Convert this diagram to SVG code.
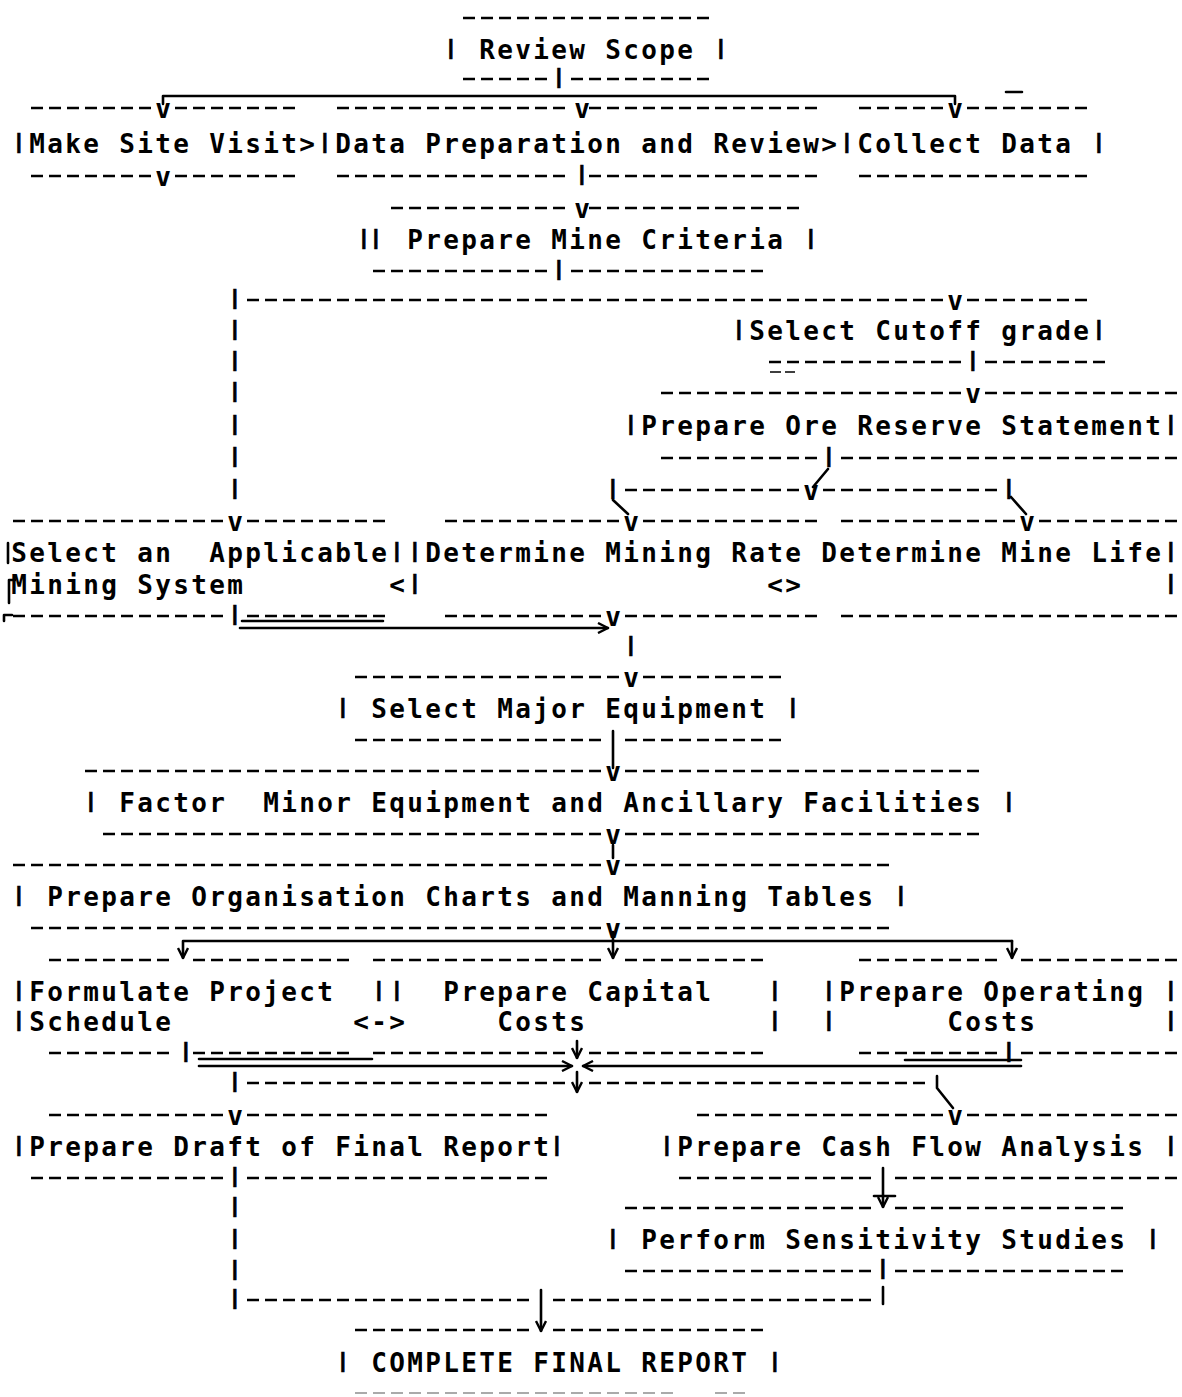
<svg xmlns="http://www.w3.org/2000/svg" width="1182" height="1397" viewBox="0 0 1182 1397" xml:space="preserve">
<style>
.t{font-family:"DejaVu Sans Mono","Liberation Mono",monospace;font-weight:bold;font-size:26px;letter-spacing:2.35px;fill:#000;white-space:pre}
.b{font-family:"DejaVu Sans","Liberation Sans",sans-serif;font-weight:normal;letter-spacing:0;stroke:#000;stroke-width:0.7}
.d{fill:none;stroke:#000;stroke-width:2.6;stroke-dasharray:12 6}
.c{fill:none;stroke:#000;stroke-width:2.6;stroke-linecap:round;stroke-linejoin:round}
.m{marker-end:url(#ah)}
</style>
<defs>
<marker id="ah" viewBox="0 0 12 12" refX="11" refY="6" markerWidth="12" markerHeight="12" markerUnits="userSpaceOnUse" orient="auto"><path d="M1 1L11 6L1 11" fill="none" stroke="#000" stroke-width="2.4"/></marker>
</defs>
<rect width="1182" height="1397" fill="#fff"/>

<g id="review">
<path class="d" d="M463 18H709M463 79H547M571 79H709"/>
<text class="t" y="59"><tspan class="b" x="447">I</tspan><tspan x="479.2">Review Scope</tspan><tspan class="b" x="717">I</tspan></text>
<text class="t" y="88"><tspan class="b" x="555">I</tspan></text>
</g>

<g id="site">
<path class="d" d="M31 108H151M175 108H295M31 176H151M175 176H295"/>
<text class="t" x="155.2" y="118">v</text>
<text class="t" y="153"><tspan class="b" x="15">I</tspan><tspan x="29.2">Make Site Visit&gt;</tspan></text>
<text class="t" x="155.2" y="186">v</text>
</g>

<g id="data">
<path class="d" d="M337 108H565M589 108H817M337 176H565M589 176H817"/>
<text class="t" x="574.2" y="118">v</text>
<text class="t" y="153"><tspan class="b" x="321">I</tspan><tspan x="335.2">Data Preparation and Review&gt;</tspan></text>
<text class="t" y="185"><tspan class="b" x="578">I</tspan></text>
</g>

<g id="collect">
<path class="d" d="M859 108H943M967 108H1087M859 176H1087"/>
<text class="t" x="947.2" y="118">v</text>
<text class="t" y="153"><tspan class="b" x="843">I</tspan><tspan x="857.2">Collect Data</tspan><tspan class="b" x="1095">I</tspan></text>
</g>

<g id="criteria">
<path class="d" d="M391 208H565M589 208H799M373 271H547M571 271H763"/>
<text class="t" x="574.2" y="218">v</text>
<text class="t" y="249"><tspan class="b" x="360">I</tspan><tspan class="b" x="372">I</tspan><tspan x="407.2">Prepare Mine Criteria</tspan><tspan class="b" x="807">I</tspan></text>
<text class="t" y="280"><tspan class="b" x="555">I</tspan></text>
</g>

<g id="cutoff">
<text class="t" y="340"><tspan class="b" x="735">I</tspan><tspan x="749.2">Select Cutoff grade</tspan><tspan class="b" x="1095">I</tspan></text>
<path class="d" d="M769 362H961M985 362H1105"/>
<path d="M770 372H781M785 372H795" stroke="#000" stroke-width="1.4"/>
<text class="t" y="371"><tspan class="b" x="969">I</tspan></text>
</g>

<g id="ore">
<path class="d" d="M661 393H961M985 393H1177M661 458H817M841 458H1177"/>
<text class="t" x="965.2" y="403">v</text>
<text class="t" y="435"><tspan class="b" x="627">I</tspan><tspan x="641.2">Prepare Ore Reserve Statement</tspan><tspan class="b" x="1167">I</tspan></text>
<text class="t" y="467"><tspan class="b" x="825">I</tspan></text>
</g>

<g id="system">
<path class="d" d="M13 521H223M247 521H385M13 616H223M247 616H385"/>
<text class="t" x="227.2" y="531">v</text>
<text class="t" y="562"><tspan x="11.2">Select an  Applicable</tspan><tspan class="b" x="393">I</tspan></text>
<text class="t" y="594"><tspan x="11.2">Mining System</tspan><tspan x="389.2">&lt;</tspan></text>
<text class="t" y="625"><tspan class="b" x="231">I</tspan></text>
<path class="c" d="M8 543V563M9 603V580H15M4 621V615H12"/>
</g>

<g id="rate">
<path class="d" d="M445 521H619M643 521H817M445 616H601M625 616H817"/>
<text class="t" x="623.2" y="531">v</text>
<text class="t" y="562"><tspan class="b" x="411">I</tspan><tspan x="425.2">Determine Mining Rate</tspan></text>
<text class="t" y="594"><tspan class="b" x="411">I</tspan><tspan x="767.2">&lt;&gt;</tspan></text>
<text class="t" x="605.2" y="626">v</text>
</g>

<g id="life">
<path class="d" d="M841 521H1015M1039 521H1177M841 616H1177"/>
<text class="t" x="1019.2" y="531">v</text>
<text class="t" y="562"><tspan x="821.2">Determine Mine Life</tspan><tspan class="b" x="1167">I</tspan></text>
<text class="t" y="594"><tspan class="b" x="1167">I</tspan></text>
</g>

<g id="major">
<path class="d" d="M355 677H619M643 677H781M355 740H601M625 740H781"/>
<text class="t" x="623.2" y="687">v</text>
<text class="t" y="718"><tspan class="b" x="339">I</tspan><tspan x="371.2">Select Major Equipment</tspan><tspan class="b" x="789">I</tspan></text>
</g>

<g id="minor">
<path class="d" d="M85 771H601M625 771H979M103 834H601M625 834H979"/>
<text class="t" x="605.2" y="781">v</text>
<text class="t" y="812"><tspan class="b" x="87">I</tspan><tspan x="119.2">Factor  Minor Equipment and Ancillary Facilities</tspan><tspan class="b" x="1005">I</tspan></text>
<text class="t" x="605.2" y="844">v</text>
</g>

<g id="org">
<path class="d" d="M13 865H601M625 865H889M31 928H601M625 928H889"/>
<text class="t" x="605.2" y="875">v</text>
<text class="t" y="906"><tspan class="b" x="15">I</tspan><tspan x="47.2">Prepare Organisation Charts and Manning Tables</tspan><tspan class="b" x="897">I</tspan></text>
<text class="t" x="605.2" y="938">v</text>
</g>

<g id="schedule">
<path class="d" d="M49 960H169M193 960H349M49 1053H169M193 1053H349"/>
<text class="t" y="1001"><tspan class="b" x="15">I</tspan><tspan x="29.2">Formulate Project</tspan><tspan class="b" x="375">I</tspan></text>
<text class="t" y="1031"><tspan class="b" x="15">I</tspan><tspan x="29.2">Schedule</tspan><tspan x="353.2">&lt;-&gt;</tspan></text>
<text class="t" y="1062"><tspan class="b" x="182">I</tspan></text>
</g>

<g id="capital">
<path class="d" d="M373 960H601M625 960H763M373 1053H565M589 1053H763"/>
<text class="t" y="1001"><tspan class="b" x="393">I</tspan><tspan x="443.2">Prepare Capital</tspan><tspan class="b" x="771">I</tspan></text>
<text class="t" y="1031"><tspan x="497.2">Costs</tspan><tspan class="b" x="771">I</tspan></text>
</g>

<g id="operating">
<path class="d" d="M859 960H997M1021 960H1177M859 1053H997M1021 1053H1177"/>
<text class="t" y="1001"><tspan class="b" x="825">I</tspan><tspan x="839.2">Prepare Operating</tspan><tspan class="b" x="1167">I</tspan></text>
<text class="t" y="1031"><tspan class="b" x="825">I</tspan><tspan x="947.2">Costs</tspan><tspan class="b" x="1167">I</tspan></text>
<text class="t" y="1062"><tspan class="b" x="1005">I</tspan></text>
</g>

<g id="draft">
<path class="d" d="M49 1115H223M247 1115H547M31 1178H223M247 1178H547"/>
<text class="t" x="227.2" y="1125">v</text>
<text class="t" y="1156"><tspan class="b" x="15">I</tspan><tspan x="29.2">Prepare Draft of Final Report</tspan><tspan class="b" x="553">I</tspan></text>
<text class="t" y="1187"><tspan class="b" x="231">I</tspan></text>
</g>

<g id="cash">
<path class="d" d="M697 1115H943M967 1115H1177M679 1178H871M895 1178H1177"/>
<text class="t" x="947.2" y="1125">v</text>
<text class="t" y="1156"><tspan class="b" x="663">I</tspan><tspan x="677.2">Prepare Cash Flow Analysis</tspan><tspan class="b" x="1167">I</tspan></text>
</g>

<g id="sensitivity">
<path class="d" d="M625 1208H871M895 1208H1123M625 1271H871M895 1271H1123"/>
<text class="t" y="1249"><tspan class="b" x="609">I</tspan><tspan x="641.2">Perform Sensitivity Studies</tspan><tspan class="b" x="1149">I</tspan></text>
<text class="t" y="1279"><tspan class="b" x="879">I</tspan></text>
</g>

<g id="complete">
<path class="d" d="M355 1330H529M553 1330H763"/>
<text class="t" y="1372"><tspan class="b" x="339">I</tspan><tspan x="371.2">COMPLETE FINAL REPORT</tspan><tspan class="b" x="771">I</tspan></text>
<path class="d" d="M355 1393H673M715 1393H745" style="stroke:#aaa;stroke-width:2"/>
</g>

<g id="connectors">
<path class="d" d="M247 300H943M967 300H1087M625 490H799M823 490H997M247 1083H565M589 1083H925M247 1300H529M553 1300H871"/>
<text class="t" y="309"><tspan class="b" x="231">I</tspan><tspan x="947.2" dy="1">v</tspan></text>
<text class="t" y="340"><tspan class="b" x="231">I</tspan></text>
<text class="t" y="371"><tspan class="b" x="231">I</tspan></text>
<text class="t" y="402"><tspan class="b" x="231">I</tspan></text>
<text class="t" y="435"><tspan class="b" x="231">I</tspan></text>
<text class="t" y="467"><tspan class="b" x="231">I</tspan></text>
<text class="t" y="499"><tspan class="b" x="231">I</tspan><tspan class="b" x="609">I</tspan><tspan x="803.2" dy="1">v</tspan><tspan class="b" x="1005" dy="-1">I</tspan></text>
<text class="t" y="656"><tspan class="b" x="627">I</tspan></text>
<text class="t" y="1092"><tspan class="b" x="231">I</tspan></text>
<text class="t" y="1217"><tspan class="b" x="231">I</tspan></text>
<text class="t" y="1249"><tspan class="b" x="231">I</tspan></text>
<text class="t" y="1280"><tspan class="b" x="231">I</tspan></text>
<text class="t" y="1309"><tspan class="b" x="231">I</tspan></text>
<path class="c" d="M883 1287V1304"/>
<path class="c" d="M163 104V96H955V104M1006 92H1022"/>
<path class="c" d="M828 469L813 487M613 500L628 514M1011 497L1026 514"/>
<path class="c m" d="M240 628H608"/>
<path class="c" d="M242 621H383M613 731V768M613 845V858"/>
<path class="c m" d="M613 932V958"/>
<path class="c m" d="M1012 941H183V958"/>
<path class="c m" d="M1012 941V958"/>
<path class="c m" d="M577 1041V1058"/>
<path class="c m" d="M199 1066H572"/>
<path class="c m" d="M1021 1066H583"/>
<path class="c" d="M199 1059H372M905 1060H1021"/>
<path class="c m" d="M577 1072V1092"/>
<path class="c" d="M937 1076V1088L953 1108"/>
<path class="c m" d="M883 1168V1207"/>
<path class="c" d="M874 1196H895"/>
<path class="c m" d="M541 1290V1331"/>
</g>
</svg>
